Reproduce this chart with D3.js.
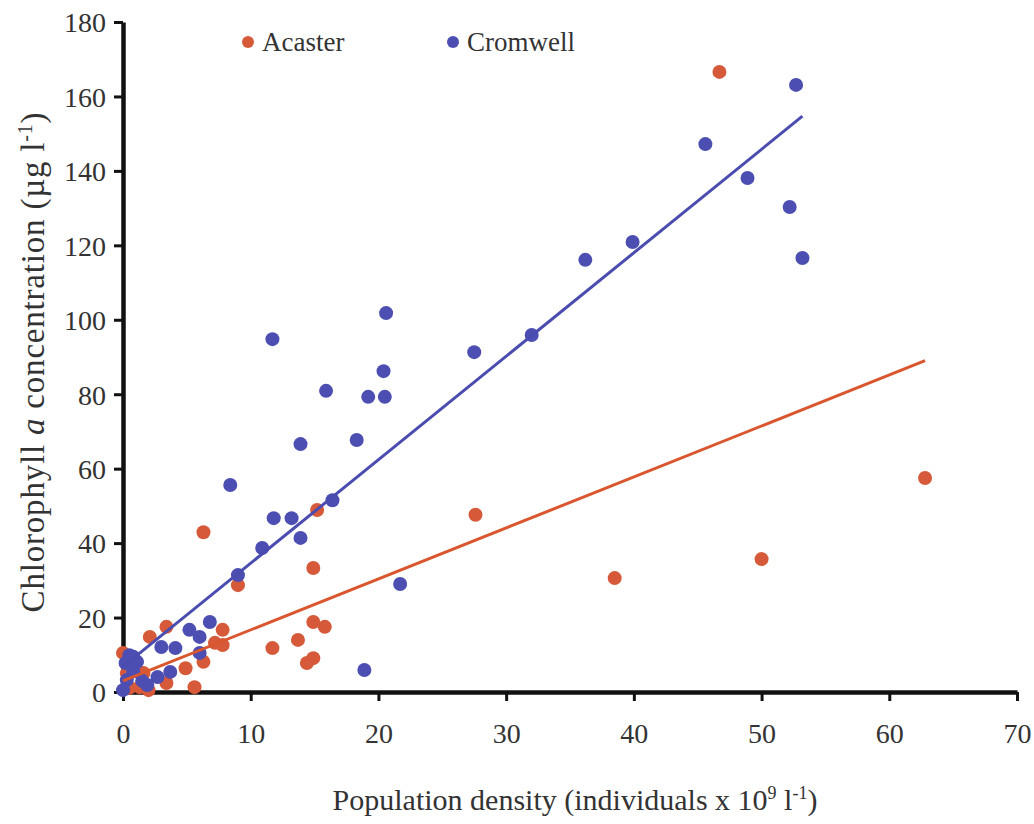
<!DOCTYPE html>
<html>
<head>
<meta charset="utf-8">
<script src="https://cdn.jsdelivr.net/npm/d3@7"></script>
<style>
  html, body { margin: 0; padding: 0; background: #fff; }
  svg text { font-family: "Liberation Serif", "DejaVu Serif", serif; fill: #333; }
</style>
</head>
<body>
<svg id="chart" width="1034" height="824"></svg>
<script>
// ---- data ----
const seriesNames = ["Acaster", "Cromwell"];
const acasterX = [46.7, 62.8, 50.0, 38.5, 27.6, 15.2, 6.3, 14.9, 9.0, 14.9, 15.8, 13.7, 11.7, 14.9, 14.4, 3.4, 2.1, 7.8, 7.8, 7.2, 6.3, 4.9, 5.6, 3.4, 2.0, 0.0, 1.6, 0.5, 1.3, 0.3];
const acasterY = [166.6, 57.5, 35.7, 30.6, 47.6, 48.9, 42.9, 33.3, 28.7, 18.8, 17.5, 14.0, 11.8, 9.1, 7.8, 17.5, 14.8, 16.7, 12.6, 13.2, 8.1, 6.4, 1.3, 2.4, 0.5, 10.5, 5.1, 1.1, 1.3, 5.0];
const cromwellX = [52.7, 45.6, 48.9, 52.2, 53.2, 39.9, 36.2, 32.0, 27.5, 20.6, 20.4, 20.5, 19.2, 11.7, 15.9, 13.9, 18.3, 8.4, 16.4, 11.8, 13.2, 13.9, 10.9, 9.0, 21.7, 18.9, 6.8, 5.2, 6.0, 3.0, 4.1, 6.0, 0.5, 0.2, 1.1, 0.8, 3.7, 2.7, 0.3, 1.9, 0.0, 0.8, 1.5];
const cromwellY = [163.1, 147.2, 138.1, 130.3, 116.6, 120.9, 116.1, 95.9, 91.3, 101.8, 86.2, 79.3, 79.3, 94.8, 80.9, 66.6, 67.7, 55.6, 51.5, 46.7, 46.7, 41.4, 38.7, 31.4, 29.0, 5.9, 18.8, 16.7, 14.8, 12.1, 11.8, 10.5, 9.9, 7.8, 8.1, 9.5, 5.4, 4.0, 3.2, 1.9, 0.5, 5.5, 3.0];
// fitted trend lines as drawn in the reference (endpoints)
const acasterTrendX = [0, 62.8];
const acasterTrendY = [3.0, 89.0];
const cromwellTrendX = [0, 53.2];
const cromwellTrendY = [6.8, 154.7];
const xTicks = [0, 10, 20, 30, 40, 50, 60, 70];
const yTicks = [0, 20, 40, 60, 80, 100, 120, 140, 160, 180];

const colors = { Acaster: "#d65a3a", Cromwell: "#4c4eb2" };
const lineColors = { Acaster: "#d9562f", Cromwell: "#4a4caf" };

const svg = d3.select("#chart");
const x = d3.scaleLinear().domain([0, 70]).range([123, 1017]);
const y = d3.scaleLinear().domain([0, 180]).range([692, 22]);

// axes
const xAxis = d3.axisBottom(x).tickValues(xTicks).tickSizeOuter(0).tickSizeInner(9).tickPadding(22);
const yAxis = d3.axisLeft(y).tickValues(yTicks).tickSizeOuter(0).tickSizeInner(9).tickPadding(8);

const gx = svg.append("g").attr("transform", "translate(0,692)").call(xAxis);
const gy = svg.append("g").attr("transform", "translate(123,0)").call(yAxis);
[gx, gy].forEach(g => {
  g.select(".domain").attr("stroke", "#111").attr("stroke-width", 4.5);
  g.selectAll(".tick line").attr("stroke", "#111").attr("stroke-width", 3);
  g.selectAll(".tick text").attr("font-size", 28).attr("fill", "#333")
    .style("font-family", '"Liberation Serif", serif');
});
gy.selectAll(".tick text").attr("dy", "0.35em");

// points
const acaster = acasterX.map((v, i) => [v, acasterY[i]]);
const cromwell = cromwellX.map((v, i) => [v, cromwellY[i]]);

svg.append("g").selectAll("circle").data(acaster).join("circle")
  .attr("cx", d => x(d[0])).attr("cy", d => y(d[1])).attr("r", 7)
  .attr("fill", colors.Acaster);
svg.append("g").selectAll("circle").data(cromwell).join("circle")
  .attr("cx", d => x(d[0])).attr("cy", d => y(d[1])).attr("r", 7)
  .attr("fill", colors.Cromwell);

// trend lines
const line = d3.line().x(d => x(d[0])).y(d => y(d[1]));
svg.append("path").datum(acasterTrendX.map((v, i) => [v, acasterTrendY[i]]))
  .attr("d", line).attr("fill", "none").attr("stroke", lineColors.Acaster).attr("stroke-width", 3);
svg.append("path").datum(cromwellTrendX.map((v, i) => [v, cromwellTrendY[i]]))
  .attr("d", line).attr("fill", "none").attr("stroke", lineColors.Cromwell).attr("stroke-width", 3);

// legend
const legendX = [248, 453];
seriesNames.forEach((name, i) => {
  svg.append("circle").attr("cx", legendX[i]).attr("cy", 42).attr("r", 6).attr("fill", colors[name]);
  svg.append("text").attr("x", legendX[i] + 14).attr("y", 51).attr("font-size", 27).text(name);
});

// axis titles
const xt = svg.append("text").attr("x", 575).attr("y", 810).attr("text-anchor", "middle").attr("font-size", 30);
xt.append("tspan").text("Population density (individuals x 10");
xt.append("tspan").attr("dy", -11).attr("font-size", 18).text("9");
xt.append("tspan").attr("dy", 11).text(" l");
xt.append("tspan").attr("dy", -11).attr("font-size", 18).text("-1");
xt.append("tspan").attr("dy", 11).text(")");

const yt = svg.append("text").attr("transform", "translate(44,362) rotate(-90)").attr("text-anchor", "middle")
  .attr("font-size", 33).attr("letter-spacing", 0.8);
yt.append("tspan").text("Chlorophyll ");
yt.append("tspan").attr("font-style", "italic").text("a");
yt.append("tspan").text(" concentration (µg l");
yt.append("tspan").attr("dy", -12).attr("font-size", 20).text("-1");
yt.append("tspan").attr("dy", 12).text(")");
</script>
</body>
</html>
